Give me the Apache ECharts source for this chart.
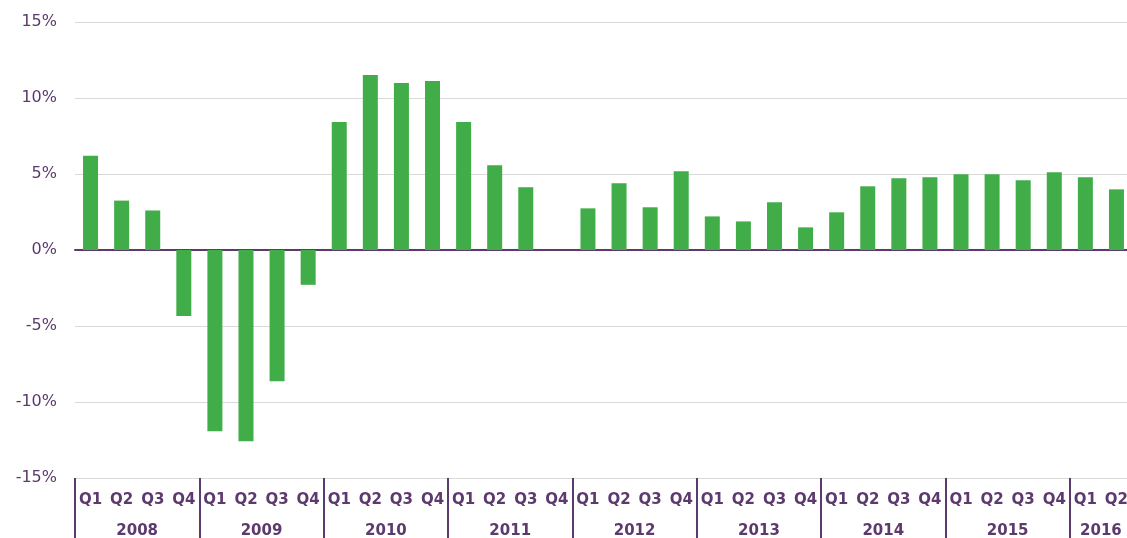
<!DOCTYPE html>
<html>
<head>
<meta charset="utf-8">
<script src="https://cdn.jsdelivr.net/npm/echarts@6/dist/echarts.min.js"></script>
<style>
html,body{margin:0;padding:0;background:#fff;}
#chart{width:1127px;height:538px;}
</style>
</head>
<body>
<div id="chart"></div>
<script>
const years = ['2008','2009','2010','2011','2012','2013','2014','2015','2016'];
const quarterLabels = [
  'Q1','Q2','Q3','Q4','Q1','Q2','Q3','Q4','Q1','Q2','Q3','Q4',
  'Q1','Q2','Q3','Q4','Q1','Q2','Q3','Q4','Q1','Q2','Q3','Q4',
  'Q1','Q2','Q3','Q4','Q1','Q2','Q3','Q4','Q1','Q2'
];
const growth = [
  6.2, 3.25, 2.6, -4.34,
  -11.93, -12.59, -8.63, -2.29,
  8.42, 11.52, 10.99, 11.12,
  8.42, 5.58, 4.13, null,
  2.74, 4.39, 2.81, 5.18,
  2.21, 1.88, 3.14, 1.49,
  2.48, 4.19, 4.72, 4.79,
  4.98, 4.98, 4.59, 5.12,
  4.79, 3.99
];
const yTicks = [-15, -10, -5, 0, 5, 10, 15];

const purple = '#5d3a6e';
const green = '#41ad49';
const font = 'Verdana, "DejaVu Sans", sans-serif';
const cats = quarterLabels.map((q, i) => years[Math.floor(i / 4)] + ' ' + q);

const chart = echarts.init(document.getElementById('chart'), null, {renderer: 'canvas'});
chart.setOption({
  animation: false,
  backgroundColor: '#fff',
  grid: {left: 75, top: 22, width: 1057, height: 456, containLabel: false, outerBoundsMode: 'none'},
  xAxis: [
    {
      type: 'category', data: cats, gridIndex: 0,
      axisLine: {onZero: true, lineStyle: {color: purple, width: 2}},
      axisTick: {show: false}, axisLabel: {show: false}, splitLine: {show: false}
    },
    {
      type: 'category', data: cats, gridIndex: 0, position: 'bottom',
      axisLine: {onZero: false, show: false},
      axisTick: {
        show: true, length: 60, inside: false,
        interval: function (idx) { return idx % 4 === 0; },
        lineStyle: {color: purple, width: 2}
      },
      axisLabel: {
        show: true, interval: 0, margin: 15,
        color: purple, fontFamily: font, fontWeight: 'bold', fontSize: 15,
        formatter: function (v) { return v.split(' ')[1]; }
      },
      splitLine: {show: false}
    },
    {
      type: 'value', gridIndex: 0, position: 'bottom', min: 0, max: 34, interval: 1,
      axisLine: {onZero: false, show: false},
      axisTick: {show: false}, splitLine: {show: false},
      axisLabel: {
        show: true, margin: 46, hideOverlap: false,
        color: purple, fontFamily: font, fontWeight: 'bold', fontSize: 15,
        formatter: function (v) {
          const n = Math.round(v);
          if (n % 4 === 2 && n < 32) return years[(n - 2) / 4];
          if (n === 33) return years[8];
          return '';
        }
      }
    }
  ],
  yAxis: {
    type: 'value', min: yTicks[0], max: yTicks[yTicks.length - 1], interval: 5,
    axisLine: {show: false}, axisTick: {show: false},
    axisLabel: {
      color: purple, fontFamily: font, fontSize: 16, margin: 18,
      formatter: function (v) { return v + '%'; }
    },
    splitLine: {lineStyle: {color: '#d9d9d9', width: 1}}
  },
  series: [{
    type: 'bar', xAxisIndex: 0, data: growth, barWidth: 15,
    itemStyle: {color: green}
  }]
});
</script>
</body>
</html>
